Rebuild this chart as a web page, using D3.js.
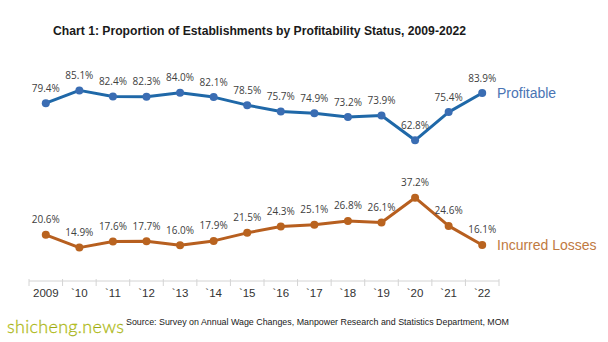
<!DOCTYPE html>
<html>
<head>
<meta charset="utf-8">
<script src="https://cdn.jsdelivr.net/npm/d3@7"></script>
<style>
  body { margin: 0; background: #fff; }
  svg { display: block; }
</style>
</head>
<body>
<div id="chart"></div>
<script>
// Years along the x axis
const years = ["2009", "`10", "`11", "`12", "`13", "`14", "`15", "`16", "`17", "`18", "`19", "`20", "`21", "`22"];

// Share of establishments (%)
const profitable = [79.4, 85.1, 82.4, 82.3, 84.0, 82.1, 78.5, 75.7, 74.9, 73.2, 73.9, 62.8, 75.4, 83.9];
const incurredLosses = [20.6, 14.9, 17.6, 17.7, 16.0, 17.9, 21.5, 24.3, 25.1, 26.8, 26.1, 37.2, 24.6, 16.1];

const seriesNames = ["Profitable", "Incurred Losses"];

const width = 608, height = 342;

const svg = d3.select("#chart")
    .append("svg")
    .attr("width", width)
    .attr("height", height);

const x = d3.scaleBand().domain(years).range([29, 499]);
const y = d3.scaleLinear().domain([0, 100]).range([281, 57]);

// Title
svg.append("text")
    .attr("x", 53)
    .attr("y", 35)
    .attr("textLength", 413)
    .attr("lengthAdjust", "spacingAndGlyphs")
    .style("font-family", "'Liberation Sans', Arial, sans-serif")
    .style("font-weight", "bold")
    .style("font-size", "13.5px")
    .style("fill", "#1a1a1a")
    .text("Chart 1: Proportion of Establishments by Profitability Status, 2009-2022");

// x axis with ticks between categories
const axis = svg.append("g").attr("transform", `translate(0,${y(0)})`);
axis.append("line")
    .attr("x1", x.range()[0]).attr("x2", x.range()[1])
    .attr("stroke", "#d4d4d4").attr("stroke-width", 1);
axis.selectAll(".tick-mark")
    .data(years.concat([null]))
    .enter()
    .append("line")
    .attr("x1", (d, i) => x.range()[0] + i * x.step())
    .attr("x2", (d, i) => x.range()[0] + i * x.step())
    .attr("y1", -2).attr("y2", 5)
    .attr("stroke", "#d4d4d4");
axis.selectAll(".tick-label")
    .data(years)
    .enter()
    .append("text")
    .attr("x", d => x(d) + x.bandwidth() / 2)
    .attr("y", 16)
    .attr("text-anchor", "middle")
    .style("font-family", "'Liberation Sans', Arial, sans-serif")
    .style("font-size", "11.5px")
    .style("fill", "#333")
    .text(d => d);

const series = [
    { name: seriesNames[0], values: profitable, line: "#1f68a8", dot: "#3a6db3", text: "#4a74b4" },
    { name: seriesNames[1], values: incurredLosses, line: "#b75f1f", dot: "#b9631f", text: "#c07a3f" }
];

const line = d3.line()
    .x((d, i) => x(years[i]) + x.bandwidth() / 2)
    .y(d => y(d));

series.forEach(s => {
    const g = svg.append("g");

    g.append("path")
        .datum(s.values)
        .attr("d", line)
        .attr("fill", "none")
        .attr("stroke", s.line)
        .attr("stroke-width", 3)
        .attr("stroke-linejoin", "round");

    g.selectAll("circle")
        .data(s.values)
        .enter()
        .append("circle")
        .attr("cx", (d, i) => x(years[i]) + x.bandwidth() / 2)
        .attr("cy", d => y(d))
        .attr("r", 4)
        .attr("fill", s.dot);

    g.selectAll(".value")
        .data(s.values)
        .enter()
        .append("text")
        .attr("x", (d, i) => x(years[i]) + x.bandwidth() / 2)
        .attr("y", d => y(d) - 11.5)
        .attr("text-anchor", "middle")
        .style("font-family", "'Open Sans', 'DejaVu Sans', sans-serif")
        .style("font-size", "10px")
        .style("fill", "#404040")
        .text(d => d.toFixed(1) + "%");

    // series name at the end of the line
    const last = s.values[s.values.length - 1];
    g.append("text")
        .attr("x", 497)
        .attr("y", y(last) + 5)
        .style("font-family", "'Liberation Sans', Arial, sans-serif")
        .style("font-size", "14px")
        .style("fill", s.text)
        .text(s.name);
});

// Source note
svg.append("text")
    .attr("x", 126)
    .attr("y", 325)
    .attr("textLength", 383)
    .attr("lengthAdjust", "spacingAndGlyphs")
    .style("font-family", "'Liberation Sans', Arial, sans-serif")
    .style("font-size", "9.5px")
    .style("fill", "#1a1a1a")
    .text("Source: Survey on Annual Wage Changes, Manpower Research and Statistics Department, MOM");

// Site mark
svg.append("text")
    .attr("x", 7)
    .attr("y", 333)
    .style("font-family", "Lato, 'Open Sans', sans-serif")
    .style("font-weight", 300)
    .style("font-size", "18px")
    .style("letter-spacing", "0.3px")
    .style("fill", "#c8d41c")
    .style("stroke", "#9aa614")
    .style("stroke-width", 0.3)
    .text("shicheng.news");
</script>
</body>
</html>
